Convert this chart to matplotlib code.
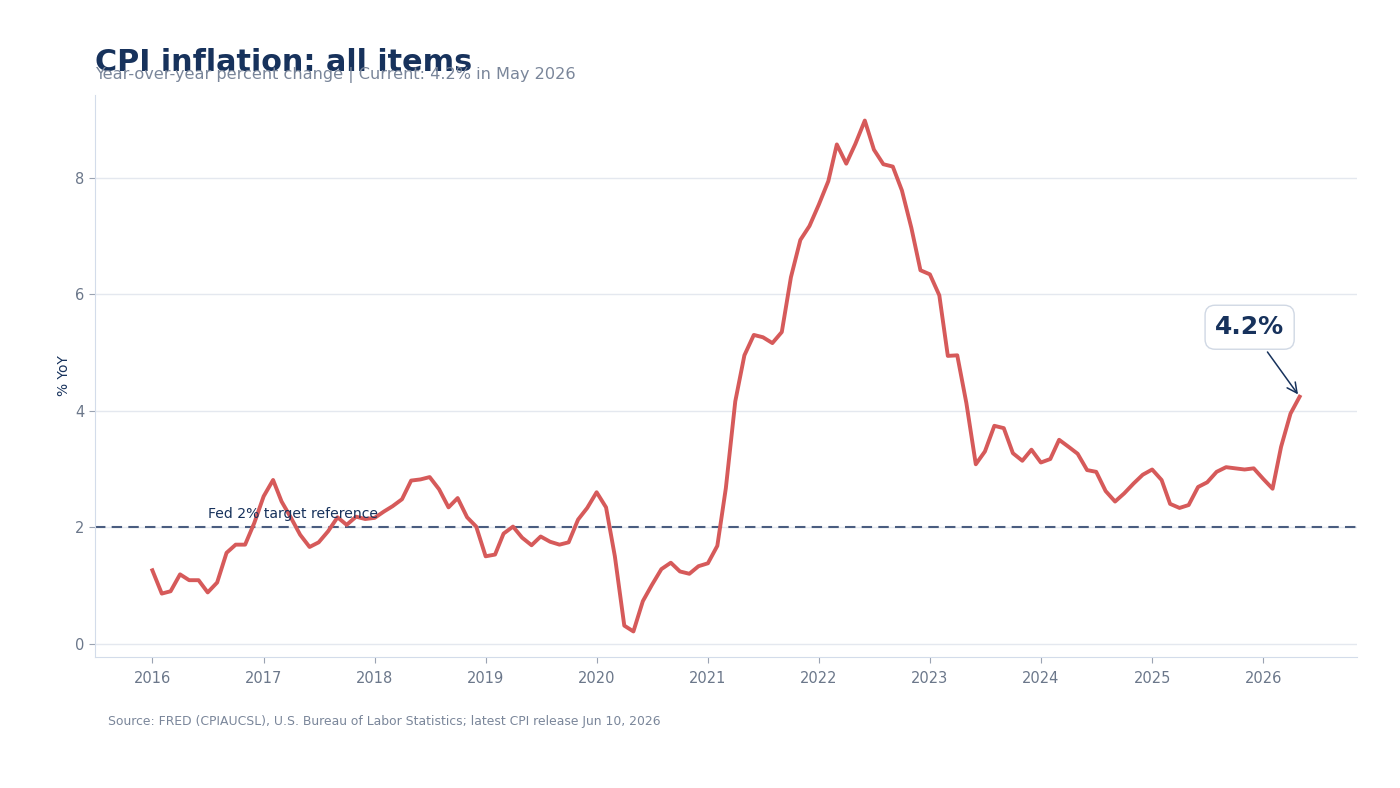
import pandas as pd
import numpy as np
import matplotlib
matplotlib.use('Agg')
import matplotlib.pyplot as plt
import matplotlib.dates as mdates

# CPI YoY % (monthly, Jan 2016 - May 2026)
cpi_2016 = [1.26, 0.86, 0.90, 1.19, 1.09, 1.09, 0.88, 1.05, 1.56, 1.70, 1.70, 2.07]
cpi_2017 = [2.53, 2.81, 2.44, 2.16, 1.87, 1.66, 1.74, 1.93, 2.17, 2.04, 2.18, 2.14]
cpi_2018 = [2.16, 2.27, 2.36, 2.48, 2.80, 2.82, 2.86, 2.65, 2.34, 2.50, 2.17, 2.01]
cpi_2019 = [1.50, 1.53, 1.89, 2.01, 1.82, 1.69, 1.84, 1.75, 1.70, 1.74, 2.13, 2.33]
cpi_2020 = [2.60, 2.34, 1.50, 0.31, 0.21, 0.73, 1.01, 1.28, 1.39, 1.24, 1.20, 1.33]
cpi_2021 = [1.38, 1.68, 2.67, 4.16, 4.95, 5.30, 5.26, 5.16, 5.35, 6.29, 6.93, 7.17]
cpi_2022 = [7.54, 7.94, 8.57, 8.24, 8.58, 8.98, 8.48, 8.23, 8.19, 7.78, 7.14, 6.41]
cpi_2023 = [6.34, 5.98, 4.94, 4.95, 4.13, 3.08, 3.30, 3.74, 3.70, 3.27, 3.14, 3.33]
cpi_2024 = [3.11, 3.17, 3.50, 3.38, 3.26, 2.98, 2.95, 2.62, 2.44, 2.58, 2.75, 2.90]
cpi_2025 = [2.99, 2.81, 2.40, 2.33, 2.38, 2.69, 2.77, 2.95, 3.03, 3.01, 2.99, 3.01]
cpi_2026 = [2.83, 2.66, 3.38, 3.95, 4.24]

valori = (cpi_2016 + cpi_2017 + cpi_2018 + cpi_2019 + cpi_2020 + cpi_2021
          + cpi_2022 + cpi_2023 + cpi_2024 + cpi_2025 + cpi_2026)
date = pd.date_range('2016-01-01', periods=len(valori), freq='MS')
target = 2.0

navy = '#17325c'
grigio = '#6b778a'
rosso = '#d65a5a'

fig = plt.figure(figsize=(14, 7.88), dpi=100)
ax = fig.add_axes([95/1400, 1 - 657/788, (1357-95)/1400, (657-95)/788])

ax.plot(date, valori, color=rosso, lw=2.8, zorder=3)
ax.axhline(target, color='#4a5d80', lw=1.5, ls=(0, (5, 3)), zorder=2)
ax.text(pd.Timestamp('2016-07-01'), 2.1, 'Fed 2% target reference',
        color=navy, fontsize=10.1, va='bottom', ha='left')

# etichetta ultimo valore
ax.annotate(f'{valori[-1]:.1f}%', xy=(date[-1], valori[-1]),
            xytext=(-36, 50), textcoords='offset points',
            ha='center', va='center', fontsize=18, fontweight='bold', color=navy,
            bbox=dict(boxstyle='round,pad=0.4', fc='white', ec='#d0d8e4', lw=1),
            arrowprops=dict(arrowstyle='->', color=navy, lw=1.1, shrinkA=2, shrinkB=2))

ax.xaxis.set_major_locator(mdates.YearLocator())
ax.xaxis.set_major_formatter(mdates.DateFormatter('%Y'))
ax.set_yticks([0, 2, 4, 6, 8])
ax.grid(axis='y', color='#e4e8ef', lw=1)
ax.set_axisbelow(True)
for s in ['top', 'right']:
    ax.spines[s].set_visible(False)
for s in ['left', 'bottom']:
    ax.spines[s].set_color('#d3dcea')
ax.tick_params(colors='#9aa3b2', labelcolor=grigio, labelsize=10.5, length=4)
ax.tick_params(axis='x', pad=6)
ax.set_ylabel('% YoY', color=navy, fontsize=10, labelpad=3)

fig.text(95/1400, 1 - 71/788, 'CPI inflation: all items', fontsize=21.8,
         fontweight='bold', color=navy, va='baseline', ha='left')
fig.text(95/1400, 1 - 79/788, 'Year-over-year percent change | Current: 4.2% in May 2026',
         fontsize=11.6, color='#7a869a', va='baseline', ha='left')
fig.text(108/1400, 1 - 725/788,
         'Source: FRED (CPIAUCSL), U.S. Bureau of Labor Statistics; latest CPI release Jun 10, 2026',
         fontsize=8.9, color='#7a869a', va='baseline', ha='left')

fig.savefig('out.png', dpi=100)
